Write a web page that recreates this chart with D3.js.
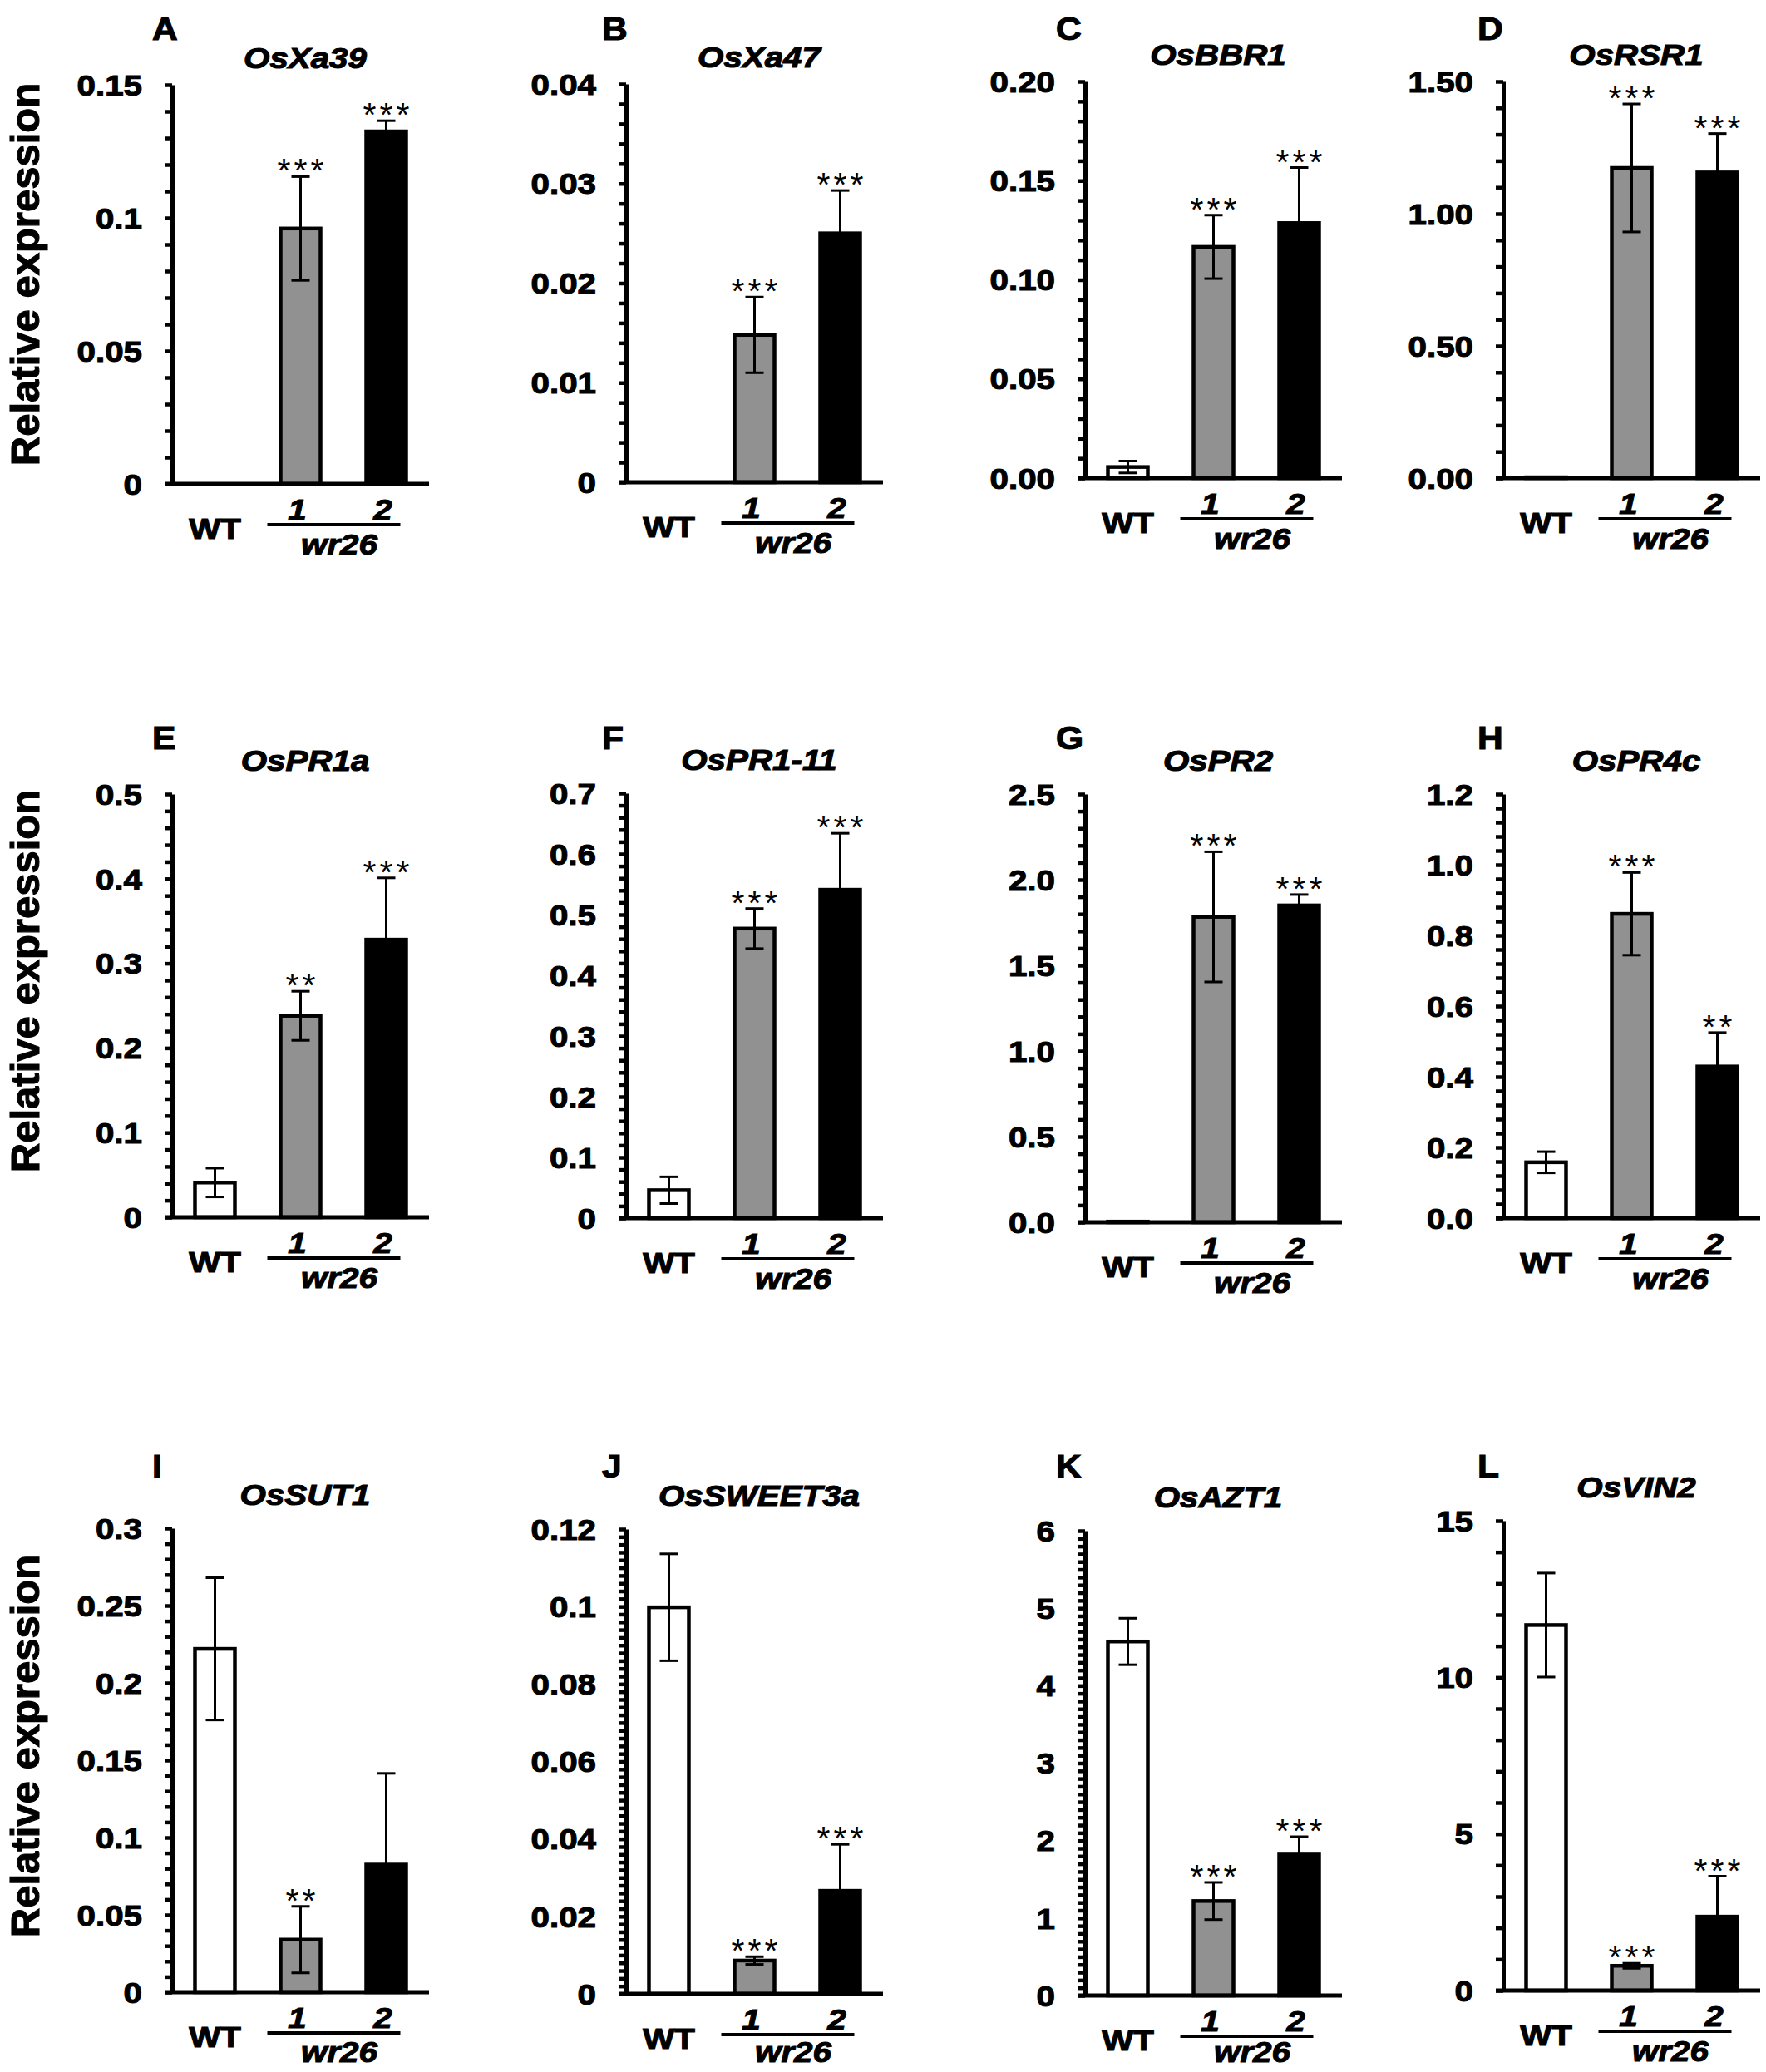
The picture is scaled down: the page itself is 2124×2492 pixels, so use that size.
<!DOCTYPE html>
<html>
<head>
<meta charset="utf-8">
<script src="https://cdn.jsdelivr.net/npm/d3@7/dist/d3.min.js"></script>
<style>
  html, body { margin: 0; padding: 0; background: #fff; }
  svg { display: block; }
  text { font-family: "Liberation Sans", Arial, Helvetica, sans-serif; fill: #000; }
  text.heavy { stroke: #000; stroke-width: 1.1px; paint-order: stroke; }
</style>
</head>
<body>
<script>
// ---------------- DATA ----------------
const panelLetters = ["A","B","C","D","E","F","G","H","I","J","K","L"];
const genes = ["OsXa39","OsXa47","OsBBR1","OsRSR1","OsPR1a","OsPR1-11","OsPR2","OsPR4c","OsSUT1","OsSWEET3a","OsAZT1","OsVIN2"];
const categories = ["WT","1","2"];
const lineName = "wr26";
const yAxisTitle = "Relative expression";

// mean relative expression: [WT, wr26-1, wr26-2]
const meanValues = [
  [0,      0.096,  0.1325],
  [0,      0.0148, 0.025 ],
  [0.0056, 0.1166, 0.1286],
  [0.003,  1.173,  1.156 ],
  [0.041,  0.238,  0.328 ],
  [0.046,  0.477,  0.541 ],
  [0.004,  1.783,  1.85  ],
  [0.158,  0.861,  0.429 ],
  [0.222,  0.034,  0.0825],
  [0.0998, 0.0086, 0.0266],
  [4.57,   1.22,   1.82  ],
  [11.67,  0.79,   2.36  ]
];
// error (SD)
const errorValues = [
  [0,      0.0195, 0.004 ],
  [0,      0.0038, 0.0043],
  [0.003,  0.016,  0.028 ],
  [0,      0.242,  0.147 ],
  [0.017,  0.029,  0.073 ],
  [0.022,  0.033,  0.093 ],
  [0,      0.38,   0.063 ],
  [0.03,   0.117,  0.096 ],
  [0.046,  0.0215, 0.059 ],
  [0.0138, 0.001,  0.012 ],
  [0.30,   0.24,   0.23  ],
  [1.66,   0.08,   1.29  ]
];
const significance = [
  ["","***","***"], ["","***","***"], ["","***","***"], ["","***","***"],
  ["","**","***"],  ["","***","***"], ["","***","***"], ["","***","**"],
  ["","**",""],     ["","***","***"], ["","***","***"], ["","***","***"]
];
const yMax = [0.15, 0.04, 0.20, 1.5, 0.5, 0.7, 2.5, 1.2, 0.3, 0.12, 6, 15];
const majorStep = [0.05, 0.01, 0.05, 0.5, 0.1, 0.1, 0.5, 0.2, 0.05, 0.02, 1, 5];
const minorStep = [0.01, 0.002, 0.01, 0.1, 0.02, 0.02, 0.1, 0.04, 0.01, 0.002, 0.1, 1];
const tickLabels = [
  ["0","0.05","0.1","0.15"],
  ["0","0.01","0.02","0.03","0.04"],
  ["0.00","0.05","0.10","0.15","0.20"],
  ["0.00","0.50","1.00","1.50"],
  ["0","0.1","0.2","0.3","0.4","0.5"],
  ["0","0.1","0.2","0.3","0.4","0.5","0.6","0.7"],
  ["0.0","0.5","1.0","1.5","2.0","2.5"],
  ["0.0","0.2","0.4","0.6","0.8","1.0","1.2"],
  ["0","0.05","0.1","0.15","0.2","0.25","0.3"],
  ["0","0.02","0.04","0.06","0.08","0.1","0.12"],
  ["0","1","2","3","4","5","6"],
  ["0","5","10","15"]
];
const barColors = ["#ffffff", "#919191", "#000000"];

// ---------------- LAYOUT ----------------
const W = 2124, H = 2492;
const colAxisX = [207, 753, 1305, 1808];
const colLetterX = [183, 724, 1270, 1777];
const plotTop  = [102, 101, 98, 98, 955, 954, 955, 955, 1838, 1839, 1841, 1829];
const plotZero = [582, 580, 575, 575, 1464, 1465, 1470, 1465, 2396, 2398, 2400, 2394];
const rowLetterBase = [48, 901, 1777];
const rowTitleOffset = [20, 28, 28];
const rowYLabelCenter = [330, 1180, 2100];
const STEP = 103;
const SX = 1.12;   // horizontal stretch of the reference lettering
const FS = 36;

const svg = d3.select("body").append("svg")
  .attr("width", W).attr("height", H).attr("viewBox", `0 0 ${W} ${H}`);
svg.append("rect").attr("width", W).attr("height", H).attr("fill", "#fff");

function txt(g, x, y, s, o = {}) {
  const t = g.append("text")
    .attr("class", o.weight === "normal" ? null : "heavy")
    .attr("transform", `translate(${x},${y}) scale(${o.sx ?? SX},1)`)
    .attr("text-anchor", o.anchor || "middle")
    .attr("font-size", o.size || FS)
    .attr("font-weight", o.weight || "bold")
    .attr("font-style", o.italic ? "italic" : "normal")
    .text(s);
  if (o.baseline) t.attr("dominant-baseline", o.baseline);
  if (o.ls) t.attr("letter-spacing", o.ls);
  return t;
}

// Y axis titles (one per row)
rowYLabelCenter.forEach(cy => {
  svg.append("text")
    .attr("class", "heavy")
    .attr("transform", `translate(47,${cy}) rotate(-90)`)
    .attr("text-anchor", "middle")
    .attr("font-size", 49)
    .attr("font-weight", "bold")
    .text(yAxisTitle);
});

genes.forEach((gene, i) => {
  const row = Math.floor(i / 4), col = i % 4;
  const ax = colAxisX[col];
  const g = svg.append("g");

  const x = d3.scaleBand().domain(categories)
    .range([ax, ax + 3 * STEP]).paddingInner(0.534).paddingOuter(0.267);
  const y = d3.scaleLinear().domain([0, yMax[i]]).range([plotZero[i], plotTop[i]]);
  const bw = x.bandwidth();
  const cx = c => x(c) + bw / 2;

  const rows = categories.map((c, k) => ({
    cat: c, v: meanValues[i][k], e: errorValues[i][k], s: significance[i][k], color: barColors[k]
  }));

  // bars
  g.selectAll("rect.bar").data(rows).join("rect")
    .attr("class", "bar")
    .attr("x", d => x(d.cat))
    .attr("y", d => y(d.v))
    .attr("width", bw)
    .attr("height", d => y(0) - y(d.v))
    .attr("fill", d => d.color)
    .attr("stroke", "#000")
    .attr("stroke-width", 4.5);

  // error bars
  const eb = rows.filter(d => d.e > 0);
  const cap = 11;
  g.selectAll("line.ev").data(eb).join("line")
    .attr("x1", d => cx(d.cat)).attr("x2", d => cx(d.cat))
    .attr("y1", d => y(d.v - d.e)).attr("y2", d => y(d.v + d.e))
    .attr("stroke", "#000").attr("stroke-width", 3);
  ["+", "-"].forEach(sg => {
    g.selectAll("line.cap" + (sg === "+" ? "t" : "b")).data(eb).join("line")
      .attr("x1", d => cx(d.cat) - cap).attr("x2", d => cx(d.cat) + cap)
      .attr("y1", d => y(sg === "+" ? d.v + d.e : d.v - d.e))
      .attr("y2", d => y(sg === "+" ? d.v + d.e : d.v - d.e))
      .attr("stroke", "#000").attr("stroke-width", 3);
  });

  // significance stars
  rows.filter(d => d.s).forEach(d => {
    txt(g, cx(d.cat) + 2, y(d.v + d.e) + 7, d.s, { weight: "normal", size: 41, ls: 4, sx: 1 });
  });

  // y axis (minor + major ticks, same length)
  const nMinor = Math.round(yMax[i] / minorStep[i]);
  const minorVals = d3.range(nMinor + 1).map(k => k * minorStep[i]);
  const yAxis = d3.axisLeft(y).tickValues(minorVals).tickSize(9).tickSizeOuter(0).tickFormat("");
  const ag = g.append("g").attr("transform", `translate(${ax},0)`).call(yAxis);
  ag.select(".domain").attr("stroke", "#000").attr("stroke-width", 5);
  ag.selectAll(".tick line").attr("stroke", "#000").attr("stroke-width", 4.5);

  // y tick labels
  tickLabels[i].forEach((lab, k) => {
    txt(g, ax - 36, y(k * majorStep[i]), lab, { anchor: "end", baseline: "central" });
  });

  // x axis baseline
  g.append("line")
    .attr("x1", ax - 9).attr("x2", x.range()[1])
    .attr("y1", y(0)).attr("y2", y(0))
    .attr("stroke", "#000").attr("stroke-width", 5);

  // x labels
  const y0 = y(0);
  txt(g, cx("WT"), y0 + 66, "WT");
  txt(g, cx("1") - 4, y0 + 43, "1", { italic: true });
  txt(g, cx("2") - 4, y0 + 43, "2", { italic: true });
  g.append("line")
    .attr("x1", cx("1") - 40).attr("x2", cx("2") + 17)
    .attr("y1", y0 + 49).attr("y2", y0 + 49)
    .attr("stroke", "#000").attr("stroke-width", 4);
  txt(g, (cx("1") + cx("2")) / 2 - 5, Math.min(y0 + 85, H - 12), lineName, { italic: true });

  // title and panel letter
  txt(g, ax + 160, plotTop[i] - rowTitleOffset[row], gene, { italic: true });
  txt(g, colLetterX[col], rowLetterBase[row], panelLetters[i], { anchor: "start", size: 38 });
});
</script>
</body>
</html>
